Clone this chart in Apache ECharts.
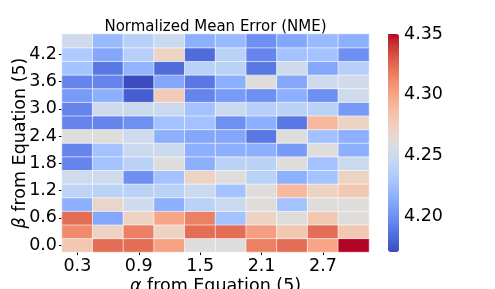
<!DOCTYPE html>
<html><head><meta charset="utf-8">
<script src="https://cdn.jsdelivr.net/npm/echarts@6/dist/echarts.min.js"></script>
<style>html,body{margin:0;padding:0;background:#fff}#c{width:495px;height:289px}</style>
</head><body><div id="c"></div>
<script>
const alphaLabels = ['0.3','0.6','0.9','1.2','1.5','1.8','2.1','2.4','2.7','3.0'];
const betaLabels = ['0.0','0.3','0.6','0.9','1.2','1.5','1.8','2.1','2.4','2.7','3.0','3.3','3.6','3.9','4.2','4.5'];
const colorbarTicks = [4.20, 4.25, 4.30, 4.35];

const nme_b00 = [4.280,4.323,4.323,4.301,4.261,4.261,4.316,4.323,4.300,4.350];
const nme_b03 = [4.312,4.272,4.316,4.272,4.323,4.323,4.303,4.280,4.323,4.280];
const nme_b06 = [4.323,4.211,4.272,4.300,4.316,4.227,4.272,4.261,4.280,4.261];
const nme_b09 = [4.216,4.269,4.251,4.216,4.240,4.249,4.261,4.227,4.261,4.261];
const nme_b12 = [4.242,4.240,4.240,4.240,4.249,4.227,4.261,4.290,4.272,4.280];
const nme_b15 = [4.251,4.251,4.200,4.227,4.272,4.261,4.240,4.216,4.227,4.272];
const nme_b18 = [4.195,4.227,4.240,4.261,4.216,4.240,4.240,4.261,4.227,4.249];
const nme_b21 = [4.195,4.227,4.249,4.249,4.216,4.216,4.216,4.205,4.261,4.216];
const nme_b24 = [4.261,4.261,4.251,4.216,4.211,4.211,4.189,4.261,4.227,4.216];
const nme_b27 = [4.195,4.195,4.200,4.227,4.227,4.200,4.216,4.189,4.290,4.272];
const nme_b30 = [4.195,4.251,4.249,4.249,4.227,4.249,4.238,4.240,4.240,4.205];
const nme_b33 = [4.205,4.216,4.178,4.278,4.195,4.205,4.200,4.216,4.200,4.251];
const nme_b36 = [4.195,4.195,4.171,4.211,4.189,4.216,4.261,4.211,4.251,4.252];
const nme_b39 = [4.227,4.189,4.218,4.184,4.240,4.240,4.189,4.251,4.211,4.238];
const nme_b42 = [4.233,4.211,4.238,4.272,4.184,4.240,4.195,4.227,4.227,4.200];
const nme_b45 = [4.251,4.222,4.238,4.249,4.216,4.222,4.200,4.211,4.222,4.216];

const rows = [nme_b00,nme_b03,nme_b06,nme_b09,nme_b12,nme_b15,nme_b18,nme_b21,nme_b24,nme_b27,nme_b30,nme_b33,nme_b36,nme_b39,nme_b42,nme_b45];
const data = [];
rows.forEach((r, yi) => r.forEach((v, xi) => data.push([xi, yi, v])));
const all = rows.flat();
const vmin = Math.min(...all), vmax = Math.max(...all);

const coolwarm = ['#3b4cc0','#445acc','#4d68d7','#5775e1','#6282ea','#6c8ef1','#779af7','#82a5fb','#8db0fe','#98b9ff','#a3c2ff','#aec9fd','#b8d0f9','#c2d5f4','#ccd9ee','#d5dbe6','#dddddd','#e5d8d1','#ecd3c5','#f1ccb9','#f5c4ad','#f7bba0','#f7b194','#f7a687','#f49a7b','#f18d6f','#ec7f63','#e57058','#de604d','#d55042','#cb3e38','#c0282f','#b40426'];

const FONT = 'DejaVu Sans';
const FS = 17.5;
const nameStyle = {fontFamily: FONT, fontSize: FS, color: '#000',
  rich: {g: {fontFamily: FONT, fontSize: FS, color: '#000', fontStyle: 'italic'}}};
const chart = echarts.init(document.getElementById('c'), null, {renderer: 'canvas'});
chart.setOption({
  animation: false,
  backgroundColor: '#fff',
  title: {
    text: 'Normalized Mean Error (NME)',
    left: 215.5, top: 20, padding: 0, textAlign: 'center',
    textStyle: {fontFamily: FONT, fontSize: 15, fontWeight: 'normal', color: '#000'}
  },
  grid: [
    {left: 62, top: 34, width: 307, height: 218, outerBoundsMode: 'none', containLabel: false},
    {left: 388, top: 34, width: 11, height: 218, outerBoundsMode: 'none', containLabel: false}
  ],
  xAxis: [{
    type: 'category', data: alphaLabels, gridIndex: 0,
    name: '{g|α} from Equation (5)', nameLocation: 'middle', nameGap: 25, nameMoveOverlap: false,
    nameTextStyle: nameStyle,
    axisLine: {show: false},
    axisTick: {show: true, interval: 1, alignWithLabel: true, length: 3, lineStyle: {color: '#000'}},
    axisLabel: {interval: 1, fontFamily: FONT, fontSize: FS, color: '#000', margin: 5},
    splitLine: {show: false}
  }, {
    type: 'value', gridIndex: 1, show: false, min: 0, max: 1
  }],
  yAxis: [{
    type: 'category', data: betaLabels, gridIndex: 0,
    name: '{g|β} from Equation (5)', nameLocation: 'middle', nameGap: 33, nameRotate: 90, nameMoveOverlap: false,
    nameTextStyle: nameStyle,
    axisLine: {show: false},
    axisTick: {show: true, interval: 1, alignWithLabel: true, length: 3, lineStyle: {color: '#000'}},
    axisLabel: {interval: 1, fontFamily: FONT, fontSize: FS, color: '#000', margin: 5},
    splitLine: {show: false}
  }, {
    type: 'value', gridIndex: 1, position: 'right', min: vmin, max: vmax,
    axisLine: {show: false},
    axisTick: {show: true, length: 3, customValues: colorbarTicks, lineStyle: {color: '#000'}},
    axisLabel: {customValues: colorbarTicks, formatter: v => v.toFixed(2), fontFamily: FONT, fontSize: FS, color: '#000', margin: 5},
    splitLine: {show: false}
  }],
  visualMap: {
    type: 'continuous', min: vmin, max: vmax, seriesIndex: 0,
    calculable: false, orient: 'vertical',
    left: 388, top: 34, itemWidth: 11, itemHeight: 218, padding: 0,
    text: null, showLabel: false,
    inRange: {color: coolwarm}
  },
  series: [{
    type: 'heatmap', xAxisIndex: 0, yAxisIndex: 0, data: data,
    itemStyle: {borderColor: '#ffffff', borderWidth: 0.6},
    emphasis: {disabled: true}, label: {show: false}
  }, {
    type: 'scatter', xAxisIndex: 1, yAxisIndex: 1, data: [], silent: true
  }]
});
</script></body></html>
